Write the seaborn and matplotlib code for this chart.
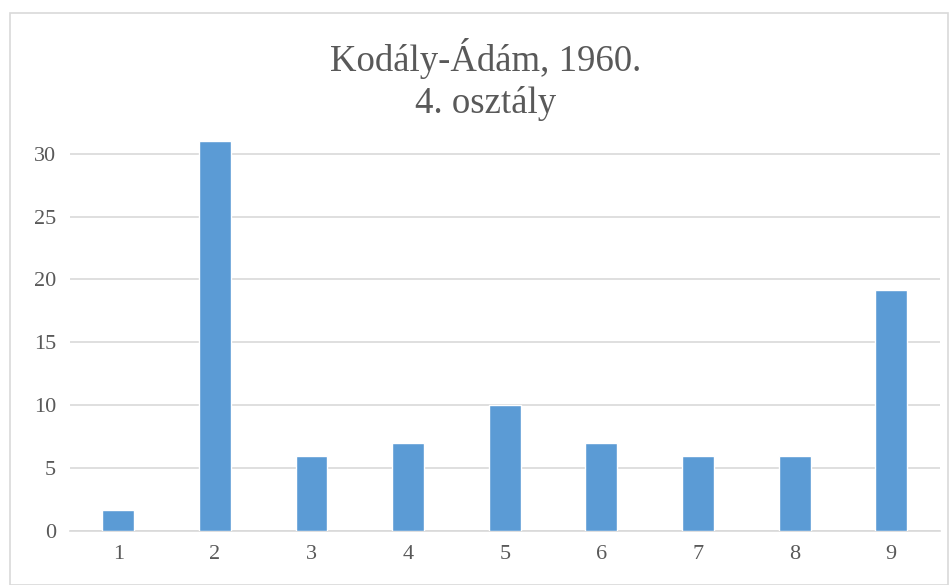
import matplotlib
matplotlib.use("Agg")
import matplotlib.pyplot as plt
import seaborn as sns
import pandas as pd
from matplotlib.patches import Rectangle

# Adatok
categories = ["1", "2", "3", "4", "5", "6", "7", "8", "9"]
values = [1.7, 31, 6, 7, 10, 7, 6, 6, 19.2]
y_ticks = [0, 5, 10, 15, 20, 25, 30]

sns.set_theme(style="white")
plt.rcParams['font.family'] = ['Liberation Serif', 'DejaVu Serif']

text_color = "#595959"
grid_color = "#D9D9D9"
bar_color = "#5B9BD5"

df = pd.DataFrame({"kategoria": categories, "ertek": values})

fig = plt.figure(figsize=(9.52, 5.85), dpi=100)
ax = fig.add_axes([0.0735, 0.0923, 0.9135, 0.675])

sns.barplot(data=df, x="kategoria", y="ertek", color=bar_color,
            width=0.33, saturation=1, ax=ax, zorder=3)

ax.set_ylim(0, 31.4)
ax.set_xlim(-0.5, 8.5)
ax.set_yticks(y_ticks)
ax.yaxis.grid(True, color=grid_color, linewidth=1.2, zorder=0)
ax.set_axisbelow(True)
for side in ["top", "right", "left"]:
    ax.spines[side].set_visible(False)
ax.spines["bottom"].set_color(grid_color)
ax.spines["bottom"].set_linewidth(1.2)
ax.tick_params(axis="both", length=0, labelsize=16, colors=text_color, pad=10)
ax.set_xlabel("")
ax.set_ylabel("")

fig.text(0.51, 0.864, "Kodály-Ádám, 1960.\n4. osztály", ha="center", va="center",
         fontsize=26.5, color=text_color, linespacing=1.25)

# Diagram keret
fig.patches.append(Rectangle((0.011, 0.0), 0.985, 0.978, transform=fig.transFigure,
                             fill=False, edgecolor=grid_color, linewidth=1.2))

fig.savefig("out.png", dpi=100)
